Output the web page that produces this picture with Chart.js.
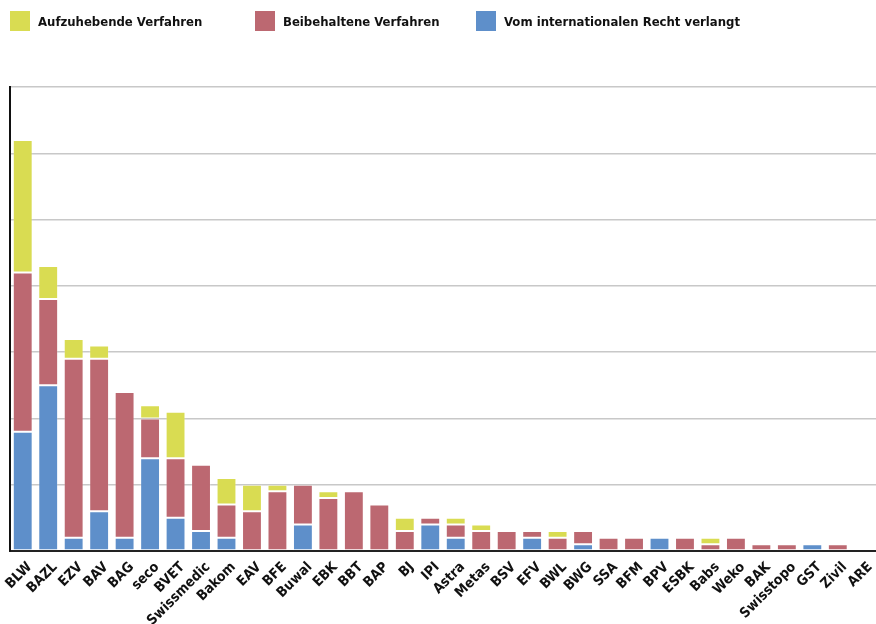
<!DOCTYPE html>
<html>
<head>
<meta charset="utf-8">
<script src="https://cdn.jsdelivr.net/npm/chart.js@4/dist/chart.umd.min.js"></script>
<style>
    html, body { margin: 0; padding: 0; background: #fff; overflow: hidden; }
    #wrap { position: relative; width: 876px; height: 624px; overflow: hidden; }
    #chartLegend { position: absolute; top: 0; left: 0; width: 876px; height: 40px; }
    .item { position: absolute; top: 11px; display: flex; align-items: center;
            font-family: "DejaVu Sans Condensed", "DejaVu Sans", sans-serif;
            font-weight: bold; font-size: 13px; color: #111; }
    .item span { display: inline-block; width: 20px; height: 20px; margin-right: 8px; }
</style>
</head>
<body>
<div id="wrap">
    <canvas id="barChart" width="876" height="624"></canvas>
    <div id="chartLegend"></div>
</div>
<script>
const categories = ['BLW', 'BAZL', 'EZV', 'BAV', 'BAG', 'seco', 'BVET', 'Swissmedic', 'Bakom', 'EAV',
    'BFE', 'Buwal', 'EBK', 'BBT', 'BAP', 'BJ', 'IPI', 'Astra', 'Metas', 'BSV', 'EFV', 'BWL', 'BWG',
    'SSA', 'BFM', 'BPV', 'ESBK', 'Babs', 'Weko', 'BAK', 'Swisstopo', 'GST', 'Zivil', 'ARE'];

// Vom internationalen Recht verlangt
const internationalValues = [18, 25, 2, 6, 2, 14, 5, 3, 2, 0,
    0, 4, 0, 0, 0, 0, 4, 2, 0, 0, 2, 0, 1,
    0, 0, 2, 0, 0, 0, 0, 0, 1, 0, 0];
// Beibehaltene Verfahren
const keptValues = [24, 13, 27, 23, 22, 6, 9, 10, 5, 6,
    9, 6, 8, 9, 7, 3, 1, 2, 3, 3, 1, 2, 2,
    2, 2, 0, 2, 1, 2, 1, 1, 0, 1, 0];
// Aufzuhebende Verfahren
const abolishValues = [20, 5, 3, 2, 0, 2, 7, 0, 4, 4,
    1, 0, 1, 0, 0, 2, 0, 1, 1, 0, 0, 1, 0,
    0, 0, 0, 0, 1, 0, 0, 0, 0, 0, 0];

const yMax = 70;
const yStep = 10;

const colors = {
    abolish: '#d9dc52',
    kept: '#bc6871',
    international: '#5e8fca'
};

const series = [
    { label: 'Aufzuhebende Verfahren', data: abolishValues, color: colors.abolish },
    { label: 'Beibehaltene Verfahren', data: keptValues, color: colors.kept },
    { label: 'Vom internationalen Recht verlangt', data: internationalValues, color: colors.international }
];

// legend, placed like the original
const legendContainer = document.getElementById('chartLegend');
const legendLeft = [10, 255, 476];
series.forEach((s, i) => {
    const item = document.createElement('div');
    item.className = 'item';
    item.style.left = legendLeft[i] + 'px';
    item.innerHTML = `<span style="background:${s.color}"></span>${s.label}`;
    legendContainer.appendChild(item);
});

// stack order bottom-up: international, kept, abolish
const datasets = [series[2], series[1], series[0]].map(s => ({
    label: s.label,
    data: s.data,
    backgroundColor: s.color,
    borderColor: 'rgba(255,255,255,0.2)',
    borderWidth: 1,
    borderSkipped: false,
    categoryPercentage: 1,
    barPercentage: 0.78
}));

const ctx = document.getElementById('barChart').getContext('2d');
new Chart(ctx, {
    type: 'bar',
    data: { labels: categories, datasets: datasets },
    options: {
        responsive: false,
        animation: false,
        layout: { padding: { top: 87, left: 10, right: 0, bottom: 0 } },
        plugins: { legend: { display: false }, tooltip: { enabled: false } },
        scales: {
            x: {
                stacked: true,
                grid: { display: false, drawTicks: false },
                border: { display: true, color: '#222', width: 2 },
                afterFit: (scale) => {
                    // fixed label band height, no extra side padding
                    scale.height = 73;
                    scale.paddingLeft = 0;
                    scale.paddingRight = 0;
                },
                ticks: {
                    autoSkip: false,
                    minRotation: 45,
                    maxRotation: 45,
                    padding: 8,
                    labelOffset: 7,
                    color: '#111',
                    font: { family: '"DejaVu Sans Condensed", "DejaVu Sans", sans-serif', weight: 'bold', size: 14 }
                }
            },
            y: {
                stacked: true,
                min: 0,
                max: yMax,
                ticks: { display: false, stepSize: yStep },
                grid: { color: '#c8c8c8', lineWidth: 1.5, drawTicks: false },
                border: { display: true, color: '#111', width: 2 }
            }
        }
    }
});
</script>
</body>
</html>
